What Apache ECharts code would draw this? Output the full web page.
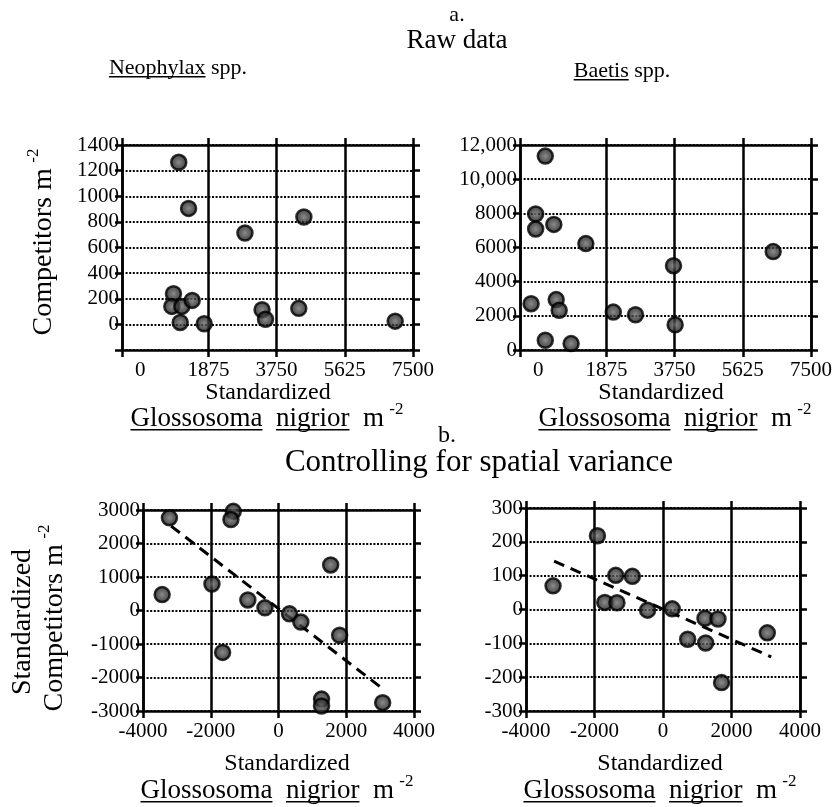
<!DOCTYPE html>
<html>
<head>
<meta charset="utf-8">
<script src="https://cdn.jsdelivr.net/npm/echarts@6/dist/echarts.min.js"></script>
<style>
html, body { margin: 0; padding: 0; background: #fff; }
#chart { width: 833px; height: 807px; }
</style>
</head>
<body>
<div id="chart"></div>
<script>
// a. raw data
const rawXLabels = [0, 1875, 3750, 5625, 7500];
const rawXTicks = [-500, 1875, 3750, 5625, 7500];
const neoYTicks = [0, 200, 400, 600, 800, 1000, 1200, 1400];
const baetisYLabels = ['0', '2000', '4000', '6000', '8000', '10,000', '12,000'];

const neoX = [1060, 1330, 2880, 4500, 915, 870, 1145, 1430, 1100, 1760, 3350, 3445, 4360, 7010];
const neoY = [1265, 905, 713, 838, 240, 140, 140, 187, 15, 5, 114, 40, 125, 25];

const baetisX = [195, -70, -70, 430, 1310, 6460, 3720, -195, 495, 577, 2065, 2675, 3765, 195, 905];
const baetisY = [11350, 7960, 7080, 7350, 6230, 5760, 4935, 2710, 2950, 2320, 2220, 2065, 1475, 570, 375];

// b. controlling for spatial variance
const ctrlNeoX = [-3220, -3435, -1335, -1405, -1965, -1650, -905, -400, 325, 660, 1540, 1805, 1270, 1270, 3075];
const ctrlNeoY = [2765, 475, 2960, 2715, 790, -1250, 315, 80, -100, -345, 1360, -740, -2645, -2850, -2750];
const ctrlNeoFitX = [-3170, 3120];
const ctrlNeoFitY = [2520, -2370];

const ctrlBaeX = [-3210, -1915, -1380, -895, -1700, -1345, -450, 270, 1225, 1605, 720, 1245, 3045, 1710];
const ctrlBaeY = [70, 218, 101, 98, 21, 20, -2, 2, -26, -28, -88, -99, -69, -216];
const ctrlBaeFitX = [-3180, 3160];
const ctrlBaeFitY = [143, -140];

const FONT = '"Liberation Serif", "Times New Roman", serif';
const zip = (xs, ys) => xs.map((x, i) => [x, ys[i]]);

const measure = document.createElement('canvas').getContext('2d');
function textWidth(t, size) {
  measure.font = size + 'px ' + FONT;
  return measure.measureText(t).width;
}

// line of text made of pieces: 'u' = underlined, 's' = superscript
function label(parts, cx, cy, size, rotation) {
  const items = parts.map(p => {
    const sup = p[1] === 's';
    const fs = sup ? Math.round(size * 0.62) : size;
    return { t: p[0], u: p[1] === 'u', sup: sup, fs: fs, w: textWidth(p[0], fs) };
  });
  const total = items.reduce((a, b) => a + b.w, 0);
  let x = -total / 2;
  const children = [];
  items.forEach(it => {
    children.push({
      type: 'text', x: x, y: it.sup ? -size * 0.36 : 0,
      style: { text: it.t, font: it.fs + 'px ' + FONT, fill: '#000', textAlign: 'left', textVerticalAlign: 'middle' }
    });
    if (it.u) {
      children.push({
        type: 'line',
        shape: { x1: x, y1: size * 0.4, x2: x + it.w, y2: size * 0.4 },
        style: { stroke: '#000', lineWidth: 1.4 }
      });
    }
    x += it.w;
  });
  return { type: 'group', x: cx, y: cy, rotation: rotation || 0, children: children };
}

const glosso = [['Glossosoma', 'u'], ['  '], ['nigrior', 'u'], ['  m\u2009'], ['-2', 's']];
const compet = [['Competitors m\u2009'], ['-2', 's']];

function xAxis(grid, pos, cfg) {
  return {
    type: 'value', gridIndex: grid, position: pos,
    min: cfg.min, max: cfg.max, interval: cfg.interval,
    axisLine: { show: true, onZero: false, lineStyle: { color: '#000', width: 2.5 } },
    axisTick: { show: true, inside: false, length: 7, lineStyle: { color: '#000', width: 2.5 }, customValues: cfg.ticks },
    axisLabel: {
      show: pos === 'bottom', customValues: cfg.labels, color: '#000',
      fontFamily: FONT, fontSize: 21, margin: 10, formatter: v => String(v)
    },
    splitLine: { show: pos === 'bottom', lineStyle: { color: '#000', width: 2.5, type: 'solid' } }
  };
}

function yAxis(grid, pos, cfg) {
  return {
    type: 'value', gridIndex: grid, position: pos,
    min: cfg.min, max: cfg.max, interval: cfg.interval,
    axisLine: { show: true, onZero: false, lineStyle: { color: '#000', width: 2.5 } },
    axisTick: { show: true, inside: false, length: 7, lineStyle: { color: '#000', width: 2.5 } },
    axisLabel: {
      show: pos === 'left', color: '#000', fontFamily: FONT, fontSize: 21, margin: 3,
      formatter: cfg.fmt || (v => String(v))
    },
    splitLine: { show: pos === 'left', lineStyle: { color: '#000', width: 2, type: [2, 1.6] } }
  };
}

const dot = {
  color: {
    type: 'radial', x: 0.5, y: 0.5, r: 0.5,
    colorStops: [{ offset: 0, color: '#6e6e6e' }, { offset: 0.5, color: '#3a3a3a' }, { offset: 1, color: '#141414' }]
  },
  borderColor: '#000', borderWidth: 2.5
};

function scatter(g, xs, ys) {
  return { type: 'scatter', xAxisIndex: 2 * g, yAxisIndex: 2 * g, data: zip(xs, ys), symbolSize: 15, itemStyle: dot, z: 5, clip: false };
}
function fit(g, xs, ys) {
  return {
    type: 'line', xAxisIndex: 2 * g, yAxisIndex: 2 * g, data: zip(xs, ys), symbol: 'none',
    lineStyle: { color: '#000', width: 3, type: [11, 7] }, z: 3
  };
}

const rawX = { min: -500, max: 7500, ticks: rawXTicks, labels: rawXLabels };
const neoYCfg = { min: -200, max: 1400, interval: 200, fmt: v => (neoYTicks.indexOf(v) >= 0 ? String(v) : '') };
const baeYCfg = { min: 0, max: 12000, interval: 2000, fmt: v => baetisYLabels[v / 2000] };
const ctrlX = { min: -4000, max: 4000, interval: 2000 };
const ctrlNeoYCfg = { min: -3000, max: 3000, interval: 1000 };
const ctrlBaeYCfg = { min: -300, max: 300, interval: 100 };

const grids = [
  { left: 122, top: 145, width: 291, height: 205 },
  { left: 520, top: 145, width: 291, height: 205 },
  { left: 143, top: 510, width: 271, height: 201 },
  { left: 526, top: 508, width: 274, height: 203 }
];
const xCfgs = [rawX, rawX, ctrlX, ctrlX];
const yCfgs = [neoYCfg, baeYCfg, ctrlNeoYCfg, ctrlBaeYCfg];

const option = {
  animation: false,
  backgroundColor: '#fff',
  grid: grids.map(g => Object.assign({ containLabel: false, outerBoundsMode: 'none' }, g)),
  xAxis: [].concat(...xCfgs.map((c, i) => [xAxis(i, 'bottom', c), xAxis(i, 'top', c)])),
  yAxis: [].concat(...yCfgs.map((c, i) => [yAxis(i, 'left', c), yAxis(i, 'right', c)])),
  series: [
    scatter(0, neoX, neoY),
    scatter(1, baetisX, baetisY),
    fit(2, ctrlNeoFitX, ctrlNeoFitY),
    scatter(2, ctrlNeoX, ctrlNeoY),
    fit(3, ctrlBaeFitX, ctrlBaeFitY),
    scatter(3, ctrlBaeX, ctrlBaeY)
  ],
  graphic: [
    label([['a.']], 457, 15, 22),
    label([['Raw data']], 457, 41, 27),
    label([['Neophylax', 'u'], [' spp.']], 178, 68, 22),
    label([['Baetis', 'u'], [' spp.']], 622, 71, 22),
    label(compet, 44, 242, 28, Math.PI / 2),
    label([['Standardized']], 268, 393, 24),
    label(glosso, 267, 419, 27),
    label([['Standardized']], 661, 393, 24),
    label(glosso, 675, 419, 27),
    label([['b.']], 447, 436, 24),
    label([['Controlling for spatial variance']], 479, 463, 31),
    label([['Standardized']], 23, 622, 28, Math.PI / 2),
    label(compet, 55, 618, 28, Math.PI / 2),
    label([['Standardized']], 287, 764, 24),
    label(glosso, 277, 791, 27),
    label([['Standardized']], 660, 764, 24),
    label(glosso, 660, 791, 27)
  ]
};

const chart = echarts.init(document.getElementById('chart'));
chart.setOption(option);
window.onresize = () => chart.resize();
</script>
</body>
</html>
